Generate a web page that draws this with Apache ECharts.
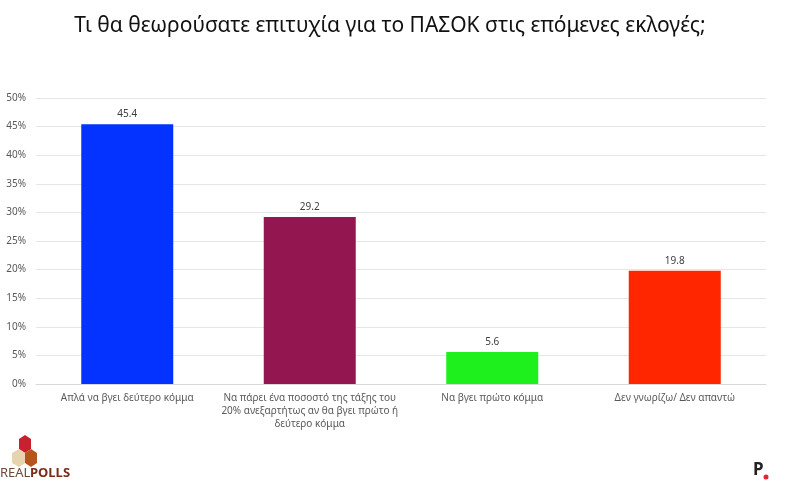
<!DOCTYPE html>
<html><head><meta charset="utf-8">
<script src="https://cdn.jsdelivr.net/npm/echarts@6/dist/echarts.min.js"></script>
<style>html,body{margin:0;padding:0;background:#fff}#c{width:800px;height:502px}</style>
</head><body><div id="c"></div>
<script>
const categories = ['Απλά να βγει δεύτερο κόμμα', 'Να πάρει ένα ποσοστό της τάξης του 20% ανεξαρτήτως αν θα βγει πρώτο ή δεύτερο κόμμα', 'Να βγει πρώτο κόμμα', 'Δεν γνωρίζω/ Δεν απαντώ'];
const categoryLines = [
  ['Απλά να βγει δεύτερο κόμμα'],
  ['Να πάρει ένα ποσοστό της τάξης του', '20% ανεξαρτήτως αν θα βγει πρώτο ή', 'δεύτερο κόμμα'],
  ['Να βγει πρώτο κόμμα'],
  ['Δεν γνωρίζω/ Δεν απαντώ']
];
const values = [45.4, 29.2, 5.6, 19.8];
const colors = ['#0433FF', '#941651', '#1EF01E', '#FF2600'];
const yTicks = [0, 5, 10, 15, 20, 25, 30, 35, 40, 45, 50];

const chart = echarts.init(document.getElementById('c'));
chart.setOption({
  animation: false,
  backgroundColor: '#fff',
  title: {
    text: 'Τι θα θεωρούσατε επιτυχία για το ΠΑΣΟΚ στις επόμενες εκλογές;',
    left: 385, top: 11, textAlign: 'center',
    textStyle: { fontFamily: 'Noto Sans', fontSize: 21, fontWeight: 'normal', color: '#111' }
  },
  grid: { left: 36, right: 34, top: 98, bottom: 118 },
  xAxis: {
    type: 'category', data: categories,
    axisLine: { lineStyle: { color: '#d9d9d9' } },
    axisTick: { show: false },
    axisLabel: {
      interval: 0, overflow: 'none', hideOverlap: false,
      formatter: (v, i) => categoryLines[i].join('\n'),
      color: '#595959', fontSize: 10, lineHeight: 13, margin: 8, fontFamily: 'Noto Sans'
    }
  },
  yAxis: {
    type: 'value', min: yTicks[0], max: yTicks[yTicks.length - 1], interval: 5,
    axisLine: { show: false }, axisTick: { show: false },
    splitLine: { lineStyle: { color: '#e6e6e6' } },
    axisLabel: { formatter: '{value}%', color: '#595959', fontSize: 10, margin: 10, fontFamily: 'Noto Sans' }
  },
  series: [{
    type: 'bar', barWidth: 92,
    data: values.map((v, i) => ({ value: v, itemStyle: { color: colors[i] } })),
    label: { show: true, position: 'top', color: '#404040', fontSize: 10, fontFamily: 'Noto Sans', distance: 5 }
  }],
  graphic: [
    { type: 'polygon', shape: { points: [[25,435],[31,439],[31,449],[25,453],[19,449],[19,439]] }, style: { fill: '#c8202f' } },
    { type: 'polygon', shape: { points: [[19,449],[25,453],[25,463],[19,467],[12,463],[12,453]] }, style: { fill: '#e8d3b0' } },
    { type: 'polygon', shape: { points: [[31,449],[37,453],[37,463],[31,467],[25,463],[25,453]] }, style: { fill: '#b5541c' } },
    { type: 'text', left: 0, top: 467, style: { text: 'REAL', fill: '#6b4a3a', font: '13px "Liberation Sans Narrow", "Noto Sans"' } },
    { type: 'text', left: 30, top: 467, style: { text: 'POLLS', fill: '#7a2b1a', font: 'bold 13px "Liberation Sans Narrow", "Noto Sans"' } },
    { type: 'text', left: 753, top: 462, style: { text: 'P', fill: '#222', font: 'bold 17px "Noto Sans"' } },
    { type: 'circle', shape: { cx: 766, cy: 477, r: 2.5 }, style: { fill: '#e3262e' } }
  ]
});
</script></body></html>
